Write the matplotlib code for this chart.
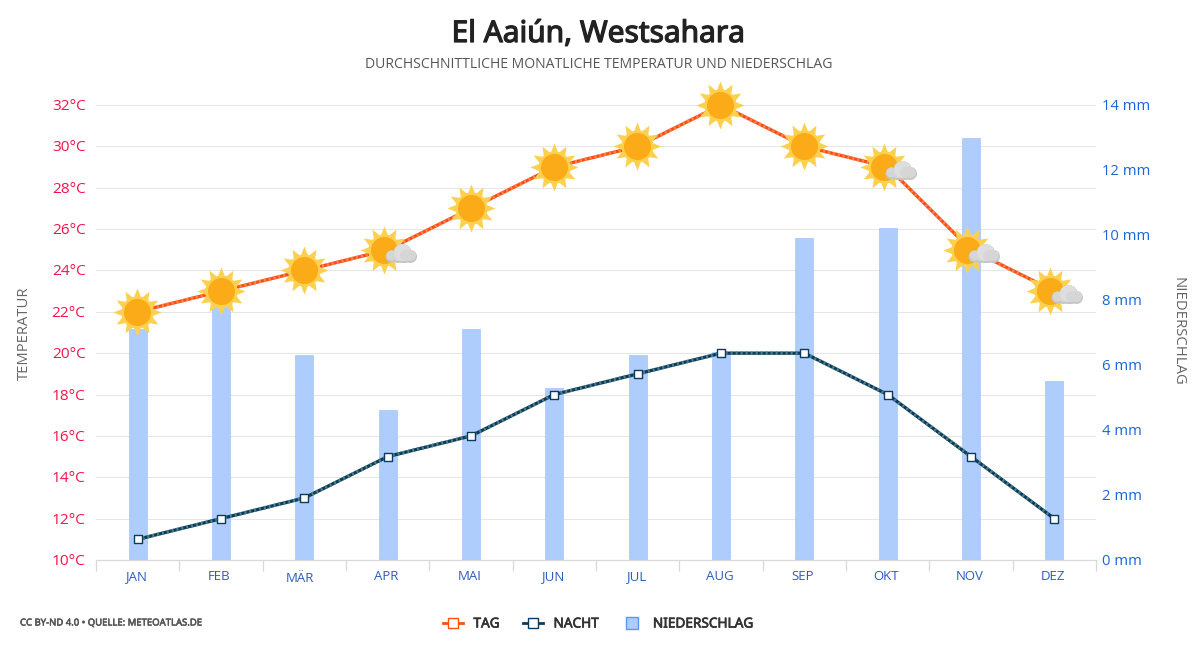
import matplotlib
matplotlib.use("Agg")
import matplotlib.pyplot as plt
import matplotlib.patheffects as pe
from matplotlib.lines import Line2D
from matplotlib.path import Path
from matplotlib.transforms import offset_copy, ScaledTranslation

months = ["JAN", "FEB", "MÄR", "APR", "MAI", "JUN", "JUL", "AUG", "SEP", "OKT", "NOV", "DEZ"]
day_temp = [22, 23, 24, 25, 27, 29, 30, 32, 30, 29, 25, 23]
night_temp = [11, 12, 13, 15, 16, 18, 19, 20, 20, 18, 15, 12]
precip = [7.1, 7.8, 6.3, 4.62, 7.1, 5.3, 6.3, 6.4, 9.9, 10.22, 13.0, 5.5]
cloudy = [False, False, False, True, False, False, False, False, False, True, True, True]
temp_ticks = list(range(10, 33, 2))
precip_ticks = list(range(0, 15, 2))

plt.rcParams["font.family"] = ["Open Sans", "Noto Sans", "DejaVu Sans"]
NOTO = ["Noto Sans", "Open Sans", "DejaVu Sans"]
W, H = 1200, 650
PX = 0.72
fig = plt.figure(figsize=(W / 100, H / 100), dpi=100, facecolor="white")
ax = fig.add_axes([96 / W, 1 - 560 / H, 1000 / W, 455 / H])
x = list(range(12))

def nudge(label, dx_px, dy_px):
    label.set_transform(label.get_transform() + ScaledTranslation(dx_px / 100, dy_px / 100, fig.dpi_scale_trans))

def embolden(text, width, colour):
    text.set_path_effects([pe.withStroke(linewidth=width, foreground=colour)])

ax.set_xlim(-0.5, 11.5)
ax.set_ylim(10, 32)
ax.set_yticks(temp_ticks)
ax.set_yticklabels([f"{t}°C" for t in temp_ticks], color="#f5144a", fontsize=11.1)
ax.tick_params(axis="y", length=0, pad=7.5)
ax.grid(axis="y", color="#e6e6e6", lw=0.75)
ax.set_axisbelow(True)
for s in ["top", "left", "right"]:
    ax.spines[s].set_visible(False)
ax.spines["bottom"].set_color("#d9d9d9")
ax.spines["bottom"].set_linewidth(0.9)

# Month ticks sit on the category boundaries, labels in the middle
ax.set_xticks([i - 0.5 for i in range(13)])
ax.set_xticklabels([])
ax.tick_params(axis="x", length=8, color="#d9d9d9", width=0.9)
ax.set_xticks(x, minor=True)
ax.set_xticklabels(months, minor=True, color="#2a5cbf", fontsize=9.5)
ax.tick_params(axis="x", which="minor", length=0, pad=7.5)
for lab, m in zip(ax.get_xticklabels(minor=True), months):
    if m == "MÄR":
        nudge(lab, -4, -2)
    else:
        nudge(lab, -1.5, 0)

ax2 = ax.twinx()
ax2.set_ylim(0, 14)
ax2.set_yticks(precip_ticks)
ax2.set_yticklabels([f"{p} mm" for p in precip_ticks], color="#1a66d9", fontsize=10.7)
ax2.tick_params(axis="y", length=0, pad=4.5)
for s in ax2.spines.values():
    s.set_visible(False)
ax2.bar(x, precip, width=0.216, color="#aecdfd", edgecolor="#a3c6fb", lw=0.5, zorder=1)
for lab in ax.get_yticklabels() + ax2.get_yticklabels():
    nudge(lab, 0, 0.5)

ax3 = ax.twinx()
ax3.set_ylim(10, 32)
ax3.axis("off")

def striped(values, base, stripe):
    ax3.plot(x, values, color=base, lw=2.4, zorder=3, solid_capstyle="round")
    ax3.plot(x, values, color=stripe, lw=2.4, zorder=4, ls=(0, (0.6, 0.9)))

striped(day_temp, "#ff4f0f", "#f4865a")
striped(night_temp, "#0b3c5d", "#4f8088")
ax3.scatter(x, night_temp, marker="s", s=29, facecolor="white", edgecolor="#0b3c5d", lw=1.0, zorder=5)

def shifted(dx, dy):
    return offset_copy(ax3.transData, fig=fig, x=dx * PX, y=dy * PX, units="points")

# Sun icons: suns next to a cloud sit a little further left
rays = Path.unit_regular_star(12, innerCircle=0.62)
for flag, shift in ((False, -0.5), (True, -4)):
    sx = [i for i, c in zip(x, cloudy) if c == flag]
    sy = [t for t, c in zip(day_temp, cloudy) if c == flag]
    tr = shifted(shift, 0)
    ax3.scatter(sx, sy, marker=rays, s=(48 * PX) ** 2, color="#fdd04f", lw=0, zorder=6, transform=tr, clip_on=False)
    ax3.scatter(sx, sy, marker="o", s=(32 * PX) ** 2, color="#fdd04f", lw=0, zorder=7, transform=tr, clip_on=False)
    ax3.scatter(sx, sy, marker="o", s=(27 * PX) ** 2, color="#fbaa18", lw=0, zorder=8, transform=tr, clip_on=False)

# Cloud icons: puffs offset from each sun
cx = [i for i, c in zip(x, cloudy) if c]
cy = [t for t, c in zip(day_temp, cloudy) if c]
dark, mid, light = "#c6c6c6", "#d6d6d6", "#dedede"
puffs = [(3, -6, 12, dark), (9, -6, 13, dark), (14, -3, 19, dark), (22, -6, 13, dark), (17, -6, 13, dark),
         (3, -5, 10, mid), (9, -5, 11, mid), (14, -2, 17, light), (22, -5, 11, mid), (17, -5, 11, mid)]
for k, (dx, dy, d, col) in enumerate(puffs):
    ax3.scatter(cx, cy, marker="o", s=(d * PX) ** 2, color=col, lw=0, zorder=9 + k * 0.1, transform=shifted(dx, dy))

title = fig.text(598 / W, 1 - 34.5 / H, "El Aaiún, Westsahara", ha="center", va="center",
                 fontsize=21.5, color="#222222", family=NOTO)
embolden(title, 0.9, "#222222")
fig.text(598.5 / W, 1 - 65 / H, "DURCHSCHNITTLICHE MONATLICHE TEMPERATUR UND NIEDERSCHLAG",
         ha="center", va="center", fontsize=10.05, color="#555555")
fig.text(24 / W, 1 - 333 / H, "TEMPERATUR", rotation=90, ha="center", va="center",
         fontsize=10.6, color="#666666")
fig.text(1178 / W, 1 - 331 / H, "NIEDERSCHLAG", rotation=270, ha="center", va="center",
         fontsize=10.7, color="#666666")
foot = fig.text(20 / W, 1 - 623 / H, "CC BY-ND 4.0 • QUELLE: METEOATLAS.DE", ha="left", va="center",
                fontsize=6.85, color="#555555", family=NOTO)
embolden(foot, 0.4, "#555555")

handles = [
    Line2D([], [], color="#ff4f0f", lw=2, marker="s", ms=7, mfc="white", mec="#ff4f0f", mew=1.0),
    Line2D([], [], color="#0b3c5d", lw=2, marker="s", ms=7, mfc="white", mec="#0b3c5d", mew=1.0),
    Line2D([], [], ls="none", marker="s", ms=9, mfc="#aecdfd", mec="#5b97f5", mew=1.0),
]
leg = fig.legend(handles, ["TAG", "NACHT", "NIEDERSCHLAG"], loc="center", ncol=3,
                 bbox_to_anchor=(598.5 / W, 1 - 624 / H), frameon=False,
                 prop={"size": 9.8, "family": NOTO}, labelcolor="#333333",
                 handlelength=1.5, handletextpad=0.75, columnspacing=1.7)
for t in leg.get_texts():
    embolden(t, 0.5, "#333333")

fig.savefig("out.png", dpi=100, facecolor="white")
